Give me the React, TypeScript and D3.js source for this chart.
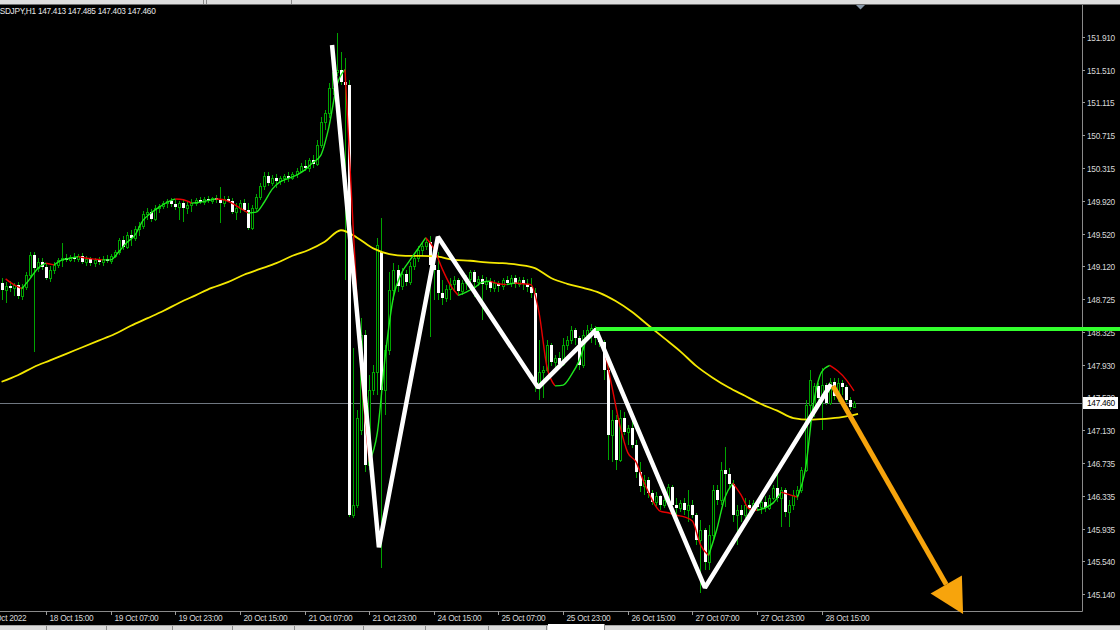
import React, { useEffect, useRef } from 'react';
import * as d3 from 'd3';

const symbol = 'USDJPY,H1';

// hourly bars [open, high, low, close], first visible bar 18 Oct 04:00
const candles: [number, number, number, number][] = [
  [148.92, 148.98, 148.71, 148.84], [148.84, 148.93, 148.68, 148.88], [148.88, 148.94, 148.81, 148.86],
  [148.86, 148.92, 148.76, 148.90], [148.90, 148.93, 148.73, 148.76], [148.76, 148.91, 148.71, 148.87],
  [148.87, 149.05, 148.84, 149.02], [149.02, 149.30, 148.98, 149.26], [149.26, 149.30, 148.08, 149.10],
  [149.10, 149.22, 149.05, 149.18], [149.18, 149.22, 149.08, 149.11], [149.11, 149.15, 148.96, 148.98],
  [148.98, 149.13, 148.93, 149.08], [149.08, 149.18, 149.03, 149.14], [149.14, 149.22, 149.10, 149.20],
  [149.20, 149.41, 149.11, 149.22], [149.22, 149.27, 149.18, 149.20], [149.20, 149.26, 149.18, 149.24],
  [149.24, 149.28, 149.18, 149.21], [149.21, 149.27, 149.18, 149.25], [149.25, 149.28, 149.15, 149.18],
  [149.18, 149.25, 149.13, 149.21], [149.21, 149.24, 149.13, 149.16], [149.16, 149.22, 149.11, 149.20],
  [149.20, 149.24, 149.14, 149.18], [149.18, 149.25, 149.13, 149.21], [149.21, 149.26, 149.16, 149.19],
  [149.19, 149.27, 149.15, 149.25], [149.25, 149.32, 149.22, 149.30], [149.30, 149.47, 149.26, 149.44],
  [149.44, 149.49, 149.32, 149.36], [149.36, 149.54, 149.33, 149.50], [149.50, 149.56, 149.37, 149.47],
  [149.47, 149.61, 149.43, 149.58], [149.58, 149.66, 149.49, 149.61], [149.61, 149.79, 149.58, 149.76],
  [149.76, 149.83, 149.69, 149.78], [149.78, 149.82, 149.66, 149.70], [149.70, 149.87, 149.67, 149.83],
  [149.83, 149.88, 149.77, 149.86], [149.86, 149.92, 149.82, 149.89], [149.89, 149.94, 149.83, 149.92],
  [149.92, 149.95, 149.84, 149.88], [149.88, 149.94, 149.81, 149.84], [149.84, 149.92, 149.69, 149.89],
  [149.89, 149.93, 149.66, 149.83], [149.83, 149.90, 149.76, 149.87], [149.87, 149.94, 149.78, 149.89],
  [149.89, 149.95, 149.86, 149.93], [149.93, 149.96, 149.88, 149.90], [149.90, 149.96, 149.87, 149.94],
  [149.94, 149.98, 149.89, 149.92], [149.92, 149.96, 149.88, 149.95], [149.95, 149.99, 149.89, 149.93],
  [149.93, 150.09, 149.65, 149.89], [149.89, 149.98, 149.84, 149.94], [149.94, 149.98, 149.90, 149.92],
  [149.92, 149.95, 149.76, 149.78], [149.78, 149.89, 149.69, 149.83], [149.83, 149.93, 149.77, 149.89],
  [149.89, 149.94, 149.78, 149.81], [149.81, 149.89, 149.56, 149.59], [149.59, 149.87, 149.56, 149.83],
  [149.83, 150.00, 149.79, 149.96], [149.96, 150.13, 149.93, 150.10], [150.10, 150.27, 150.05, 150.22],
  [150.22, 150.27, 150.10, 150.13], [150.13, 150.23, 150.10, 150.19], [150.19, 150.24, 150.07, 150.16],
  [150.16, 150.22, 150.11, 150.19], [150.19, 150.24, 150.13, 150.22], [150.22, 150.27, 150.15, 150.19],
  [150.19, 150.27, 150.17, 150.24], [150.24, 150.32, 150.19, 150.28], [150.28, 150.38, 150.26, 150.34],
  [150.34, 150.41, 150.28, 150.32], [150.32, 150.44, 150.27, 150.41], [150.41, 150.47, 150.32, 150.37],
  [150.37, 150.66, 150.34, 150.60], [150.60, 150.94, 150.56, 150.88], [150.88, 151.02, 150.78, 150.98],
  [150.98, 151.35, 150.92, 151.29], [151.29, 151.53, 151.20, 151.48], [151.48, 151.96, 151.43, 151.51],
  [151.51, 151.72, 151.32, 151.36], [151.36, 151.65, 148.96, 151.32], [151.32, 151.39, 146.08, 146.10],
  [146.10, 148.13, 146.07, 146.22], [146.22, 147.38, 146.19, 147.28], [147.14, 148.50, 147.07, 148.29],
  [148.29, 148.35, 146.63, 146.71], [146.71, 147.80, 146.65, 147.62], [147.62, 147.92, 147.56, 147.84],
  [147.84, 149.47, 147.56, 149.38], [149.30, 149.71, 145.46, 147.62], [147.62, 148.17, 147.32, 148.11],
  [148.11, 149.05, 148.05, 148.84], [148.84, 149.16, 148.71, 149.08], [149.08, 149.14, 148.81, 148.88],
  [148.88, 149.10, 148.84, 149.03], [149.03, 149.08, 148.88, 148.93], [148.93, 149.18, 148.90, 149.13],
  [149.13, 149.26, 149.08, 149.22], [149.22, 149.37, 149.18, 149.32], [149.32, 149.41, 149.26, 149.37],
  [149.37, 149.47, 149.32, 149.42], [149.42, 149.49, 148.26, 149.14], [149.14, 149.26, 148.71, 149.08],
  [149.08, 149.30, 148.71, 148.80], [148.80, 148.96, 148.65, 148.74], [148.74, 148.90, 148.69, 148.85],
  [148.85, 148.98, 148.71, 148.91], [148.91, 149.00, 148.81, 148.96], [148.96, 148.98, 148.79, 148.82],
  [148.82, 148.96, 148.77, 148.92], [148.92, 149.02, 148.84, 148.97], [148.97, 149.08, 148.93, 149.05],
  [149.05, 149.08, 148.75, 148.93], [148.93, 149.00, 148.88, 148.97], [148.97, 149.02, 148.47, 148.91],
  [148.91, 148.99, 148.84, 148.94], [148.94, 148.98, 148.81, 148.86], [148.86, 148.96, 148.81, 148.92],
  [148.92, 148.94, 148.81, 148.88], [148.88, 148.98, 148.84, 148.96], [148.96, 149.00, 148.90, 148.92],
  [148.92, 149.02, 148.87, 148.98], [148.98, 149.02, 148.86, 148.91], [148.91, 148.99, 148.87, 148.96],
  [148.96, 148.99, 148.84, 148.91], [148.91, 148.97, 148.81, 148.87], [148.87, 148.98, 148.74, 148.80],
  [148.80, 148.86, 147.60, 147.68], [147.68, 148.23, 147.50, 147.84], [147.84, 147.91, 147.52, 147.86],
  [147.86, 148.23, 147.84, 148.17], [148.17, 148.19, 147.91, 147.96], [147.96, 148.05, 147.89, 148.01],
  [148.01, 148.08, 147.89, 147.94], [147.94, 148.25, 147.91, 148.17], [148.17, 148.28, 148.11, 148.23],
  [148.23, 148.40, 148.18, 148.35], [148.35, 148.37, 148.17, 148.25], [148.25, 148.28, 147.86, 147.92],
  [147.92, 148.35, 147.89, 148.29], [148.29, 148.41, 148.25, 148.35], [148.35, 148.42, 148.19, 148.37],
  [148.37, 148.40, 148.17, 148.25], [148.25, 148.32, 148.14, 148.20], [148.20, 148.23, 147.74, 147.86],
  [147.86, 147.92, 146.77, 147.07], [147.07, 147.38, 146.75, 147.26], [147.26, 147.32, 146.65, 146.77],
  [146.77, 147.38, 146.75, 147.28], [147.28, 147.35, 147.07, 147.11], [147.11, 147.20, 146.95, 147.16],
  [147.16, 147.32, 146.92, 146.95], [146.95, 147.01, 146.55, 146.63], [146.63, 146.75, 146.38, 146.46],
  [146.46, 146.59, 146.35, 146.53], [146.53, 146.57, 146.31, 146.37], [146.37, 146.41, 146.22, 146.26],
  [146.26, 146.38, 146.21, 146.33], [146.33, 146.35, 146.16, 146.22], [146.22, 146.35, 146.19, 146.29],
  [146.29, 146.48, 146.25, 146.44], [146.44, 146.47, 146.16, 146.22], [146.22, 146.31, 146.10, 146.19],
  [146.19, 146.29, 146.14, 146.25], [146.25, 146.31, 146.10, 146.16], [146.16, 146.41, 146.02, 146.22],
  [146.22, 146.29, 146.07, 146.10], [146.10, 146.13, 145.74, 145.80], [145.80, 146.04, 145.16, 145.92],
  [145.92, 145.95, 145.44, 145.53], [145.53, 145.98, 145.44, 145.86], [145.86, 146.47, 145.80, 146.41],
  [146.41, 146.47, 146.22, 146.29], [146.29, 146.75, 146.22, 146.65], [146.65, 146.93, 146.20, 146.60],
  [146.60, 146.67, 146.43, 146.48], [146.48, 146.53, 146.02, 146.10], [146.10, 146.22, 145.74, 146.16],
  [146.16, 146.22, 146.02, 146.10], [146.10, 146.31, 146.07, 146.22], [146.22, 146.29, 146.10, 146.19],
  [146.19, 146.29, 146.14, 146.25], [146.25, 146.29, 146.16, 146.20], [146.20, 146.31, 146.12, 146.26],
  [146.26, 146.33, 146.14, 146.19], [146.19, 146.35, 146.16, 146.31], [146.31, 146.47, 146.29, 146.43],
  [146.43, 146.67, 146.26, 146.31], [146.31, 146.44, 145.96, 146.41], [146.41, 146.43, 146.08, 146.14],
  [146.14, 146.29, 145.96, 146.22], [146.22, 146.41, 146.16, 146.35], [146.35, 146.46, 146.29, 146.41],
  [146.41, 146.69, 146.37, 146.65], [146.65, 147.50, 146.63, 147.44], [147.44, 147.86, 147.14, 147.74],
  [147.38, 147.71, 147.29, 147.67], [147.67, 147.71, 147.48, 147.52], [147.52, 147.89, 147.14, 147.68],
  [147.68, 147.71, 147.44, 147.46], [147.46, 147.77, 147.44, 147.72], [147.72, 147.77, 147.50, 147.55],
  [147.55, 147.77, 147.48, 147.70], [147.70, 147.74, 147.56, 147.66], [147.66, 147.68, 147.48, 147.50],
  [147.50, 147.54, 147.38, 147.41], [147.413, 147.485, 147.403, 147.46],
];

// fast coloured MA, one value every 2nd bar starting at bar 1
const fastMa = [
  148.97, 148.90, 148.85, 148.97, 149.10, 149.16, 149.14, 149.20, 149.22, 149.24,
  149.22, 149.21, 149.20, 149.20, 149.30, 149.41, 149.50, 149.68, 149.77, 149.84,
  149.90, 149.94, 149.93, 149.89, 149.90, 149.92, 149.94, 149.93, 149.89, 149.83,
  149.77, 149.78, 149.90, 150.06, 150.15, 150.19, 150.23, 150.29, 150.38, 150.47,
  150.81, 151.32, 151.51, 149.62, 147.86, 146.75, 147.10, 148.05, 148.75, 149.04,
  149.19, 149.33, 149.47, 149.34, 149.10, 148.90, 148.77, 148.81, 148.86, 148.93,
  148.94, 148.91, 148.90, 148.92, 148.91, 148.90, 148.57, 147.90, 147.67, 147.68,
  147.80, 147.98, 148.25, 148.32, 148.13, 147.68, 147.20, 146.86, 146.75, 146.50,
  146.29, 146.15, 146.13, 146.10, 146.08, 146.03, 145.74, 145.61, 145.92, 146.31,
  146.49, 146.35, 146.18, 146.16, 146.19, 146.25, 146.38, 146.35, 146.32, 146.67,
  147.46, 147.84, 147.92, 147.85, 147.75, 147.61,
];

// slow yellow MA, one value every 4th bar starting at bar 0
const slowMa = [
  147.72, 147.80, 147.90, 147.98, 148.06, 148.14, 148.22, 148.30, 148.40, 148.49,
  148.58, 148.68, 148.77, 148.86, 148.93, 149.02, 149.09, 149.16, 149.25, 149.32,
  149.42, 149.56, 149.47, 149.34, 149.27, 149.25, 149.25, 149.24, 149.20, 149.19,
  149.17, 149.16, 149.14, 149.10, 148.98, 148.91, 148.86, 148.80, 148.70, 148.57,
  148.41, 148.25, 148.09, 147.91, 147.77, 147.65, 147.55, 147.45, 147.37, 147.28,
  147.26, 147.27, 147.29, 147.33,
];

const timeLabels = [
  '18 Oct 2022', '18 Oct 15:00', '19 Oct 07:00', '19 Oct 23:00', '20 Oct 15:00',
  '21 Oct 07:00', '21 Oct 23:00', '24 Oct 15:00', '25 Oct 07:00', '25 Oct 23:00',
  '26 Oct 15:00', '27 Oct 07:00', '27 Oct 23:00', '28 Oct 15:00',
];
const timeLabelBars = [-5, 11, 27, 43, 59, 75, 91, 107, 123, 139, 155, 171, 187, 203];

const priceTicks = [
  151.91, 151.51, 151.115, 150.715, 150.315, 149.92, 149.52, 149.12, 148.725,
  148.325, 147.93, 147.53, 147.13, 146.735, 146.335, 145.935, 145.54, 145.14,
];

// hand drawn annotations (bar position, price)
const zigzagBars = [81.8, 93.4, 108, 132.8, 147.1, 174.1, 205.3];
const zigzagPrices = [151.81, 145.71, 149.48, 147.65, 148.35, 145.22, 147.69];
const levelBar = 147.1;
const levelPrice = 148.36;
const arrowBars = [205.8, 238];
const arrowPrices = [147.67, 144.9];

const W = 1120;
const H = 630;
const axisX = 1082;
const bottomY = 611;
const candleGreen = '#00a400';
const maGreen = '#1ee81e';
const maRed = '#e80000';
const font = '"Liberation Sans", Arial, sans-serif';

const App: React.FC = () => {
  const svgRef = useRef<SVGSVGElement>(null);

  useEffect(() => {
    if (!svgRef.current) return;
    const svg = d3.select(svgRef.current);
    svg.selectAll('*').remove();

    const x = d3.scaleLinear().domain([0, candles.length - 1]).range([1.6, 854]);
    const y = d3.scaleLinear().domain([145.14, 151.91]).range([594.3, 36.7]);

    svg.append('rect').attr('width', W).attr('height', H).attr('fill', '#000');

    svg.append('defs').append('clipPath').attr('id', 'plot')
      .append('rect').attr('x', 0).attr('y', 6).attr('width', axisX).attr('height', bottomY - 6);

    // window chrome top
    svg.append('rect').attr('x', 0).attr('y', 0).attr('width', W).attr('height', 4).attr('fill', '#dedede');
    svg.append('line').attr('x1', 0).attr('x2', W).attr('y1', 4.5).attr('y2', 4.5).attr('stroke', '#6e6e6e');
    [203, 206, 291].forEach(sx =>
      svg.append('line').attr('x1', sx + 0.5).attr('x2', sx + 0.5).attr('y1', 0).attr('y2', 4).attr('stroke', '#8a8a8a'));

    // bid line
    const last = candles[candles.length - 1];
    svg.append('line')
      .attr('x1', 0).attr('x2', axisX).attr('y1', Math.round(y(last[3])) + 0.5).attr('y2', Math.round(y(last[3])) + 0.5)
      .attr('stroke', '#6f7780').attr('stroke-width', 1);

    // candles
    const gc = svg.append('g').attr('clip-path', 'url(#plot)').attr('shape-rendering', 'crispEdges');
    const bars = gc.selectAll('g').data(candles).enter().append('g');
    bars.append('line')
      .attr('x1', (d, i) => Math.round(x(i)) + 0.5)
      .attr('x2', (d, i) => Math.round(x(i)) + 0.5)
      .attr('y1', d => y(d[1]))
      .attr('y2', d => y(d[2]))
      .attr('stroke', candleGreen);
    bars.append('rect')
      .attr('x', (d, i) => (d[3] >= d[0] ? Math.round(x(i)) - 0.5 : Math.round(x(i)) - 1))
      .attr('y', d => Math.round(y(Math.max(d[0], d[3]))) + (d[3] >= d[0] ? 0.5 : 0))
      .attr('width', d => (d[3] >= d[0] ? 2 : 3))
      .attr('height', d => Math.max(1, Math.round(y(Math.min(d[0], d[3]))) - Math.round(y(Math.max(d[0], d[3])))))
      .attr('fill', d => (d[3] >= d[0] ? '#000' : '#fff'))
      .attr('stroke', d => (d[3] >= d[0] ? candleGreen : 'none'));

    // slow MA
    const slowLine = d3.line<number>()
      .x((d, i) => x(i * 4))
      .y(d => y(d))
      .curve(d3.curveMonotoneX);
    svg.append('path').attr('clip-path', 'url(#plot)')
      .attr('d', slowLine(slowMa) as string)
      .attr('fill', 'none').attr('stroke', '#f4e800').attr('stroke-width', 1.8);

    // fast MA, green rising / red falling
    const pts = fastMa.map((v, k) => [x(1 + k * 2), y(v)] as [number, number]);
    const runs: { up: boolean; p: [number, number][] }[] = [];
    for (let k = 0; k < fastMa.length - 1; k++) {
      const up = fastMa[k + 1] >= fastMa[k];
      const cur = runs[runs.length - 1];
      if (cur && cur.up === up) cur.p.push(pts[k + 1]);
      else runs.push({ up, p: [pts[k], pts[k + 1]] });
    }
    const fastLine = d3.line<[number, number]>().curve(d3.curveMonotoneX);
    const gf = svg.append('g').attr('clip-path', 'url(#plot)');
    runs.forEach(r => {
      gf.append('path').attr('d', fastLine(r.p) as string)
        .attr('fill', 'none').attr('stroke', r.up ? maGreen : maRed).attr('stroke-width', 1.4);
    });

    // zigzag
    const zz = zigzagBars.map((b, i) => [x(b), y(zigzagPrices[i])] as [number, number]);
    svg.append('path')
      .attr('d', d3.line()(zz) as string)
      .attr('fill', 'none').attr('stroke', '#fff').attr('stroke-width', 4.5)
      .attr('stroke-linejoin', 'bevel');

    // frame and price axis
    svg.append('line').attr('x1', axisX + 0.5).attr('x2', axisX + 0.5).attr('y1', 5).attr('y2', bottomY + 0.5)
      .attr('stroke', '#8a8a8a');
    svg.append('line').attr('x1', 0).attr('x2', axisX + 0.5).attr('y1', bottomY + 0.5).attr('y2', bottomY + 0.5)
      .attr('stroke', '#8a8a8a');

    const gy = svg.append('g').style('font-family', font).style('font-size', '8.3px').style('letter-spacing', '-0.3px');
    priceTicks.forEach(p => {
      const py = Math.round(y(p)) + 0.5;
      gy.append('line').attr('x1', axisX).attr('x2', axisX + 3).attr('y1', py).attr('y2', py).attr('stroke', '#9a9a9a');
      gy.append('text').attr('x', axisX + 5).attr('y', py + 3).attr('fill', '#d8d8d8').text(p.toFixed(3));
    });

    // time axis
    const gx = svg.append('g').style('font-family', font).style('font-size', '8.3px').style('letter-spacing', '-0.3px');
    timeLabels.forEach((t, i) => {
      const tx = Math.round(x(timeLabelBars[i])) + 0.5;
      gx.append('line').attr('x1', tx).attr('x2', tx).attr('y1', bottomY).attr('y2', bottomY + 4).attr('stroke', '#9a9a9a');
      gx.append('text').attr('x', tx + 3).attr('y', 621).attr('fill', '#d8d8d8').text(t);
    });

    // bottom tab bar
    svg.append('rect').attr('x', 0).attr('y', 625).attr('width', W).attr('height', 5).attr('fill', '#dcdcdc');
    svg.append('line').attr('x1', 0).attr('x2', W).attr('y1', 625.5).attr('y2', 625.5).attr('stroke', '#a8a8a8');
    [46, 106, 172, 232, 294, 363, 425, 488, 546].forEach(sx =>
      svg.append('line').attr('x1', sx + 0.5).attr('x2', sx + 0.5).attr('y1', 626).attr('y2', 630).attr('stroke', '#8c8c8c'));
    svg.append('rect').attr('x', 548).attr('y', 624).attr('width', 56).attr('height', 6).attr('fill', '#fff');
    svg.append('line').attr('x1', 604.5).attr('x2', 604.5).attr('y1', 624).attr('y2', 630).attr('stroke', '#8c8c8c');

    // chart shift marker
    svg.append('path').attr('d', 'M856,5 L865,5 L860.5,9.5 Z').attr('fill', '#8797a8');

    // resistance level
    svg.append('line')
      .attr('x1', x(levelBar)).attr('x2', W)
      .attr('y1', y(levelPrice)).attr('y2', y(levelPrice))
      .attr('stroke', '#33ff2e').attr('stroke-width', 4);

    // current price label
    const by = Math.round(y(last[3]));
    svg.append('rect').attr('x', axisX + 1).attr('y', by - 6).attr('width', 35).attr('height', 12).attr('fill', '#fff');
    svg.append('text').attr('x', axisX + 5).attr('y', by + 3)
      .style('font-family', font).style('font-size', '8.3px').style('letter-spacing', '-0.3px')
      .attr('fill', '#000').text(last[3].toFixed(3));

    // projection arrow
    const sx = x(arrowBars[0]);
    const sy = y(arrowPrices[0]);
    const tx = x(arrowBars[1]);
    const ty = y(arrowPrices[1]);
    const len = Math.hypot(tx - sx, ty - sy);
    const ux = (tx - sx) / len;
    const uy = (ty - sy) / len;
    const bx = tx - ux * 34;
    const byy = ty - uy * 34;
    const orange = '#f7a40c';
    svg.append('line').attr('x1', sx).attr('y1', sy).attr('x2', bx).attr('y2', byy)
      .attr('stroke', orange).attr('stroke-width', 5);
    svg.append('path')
      .attr('d', `M${tx},${ty} L${bx - uy * 18},${byy + ux * 18} L${bx + uy * 18},${byy - ux * 18} Z`)
      .attr('fill', orange);

    // header
    svg.append('text').attr('x', -6).attr('y', 14)
      .style('font-family', font).style('font-size', '8.3px').style('letter-spacing', '-0.3px')
      .attr('fill', '#e8e8e8')
      .text(`${symbol}  ${last.map(v => v.toFixed(3)).join(' ')}`);
  }, []);

  return (
    <svg
      ref={svgRef}
      width={W}
      height={H}
      style={{ position: 'absolute', left: 0, top: 0, display: 'block' }}
    ></svg>
  );
};

export default App;
